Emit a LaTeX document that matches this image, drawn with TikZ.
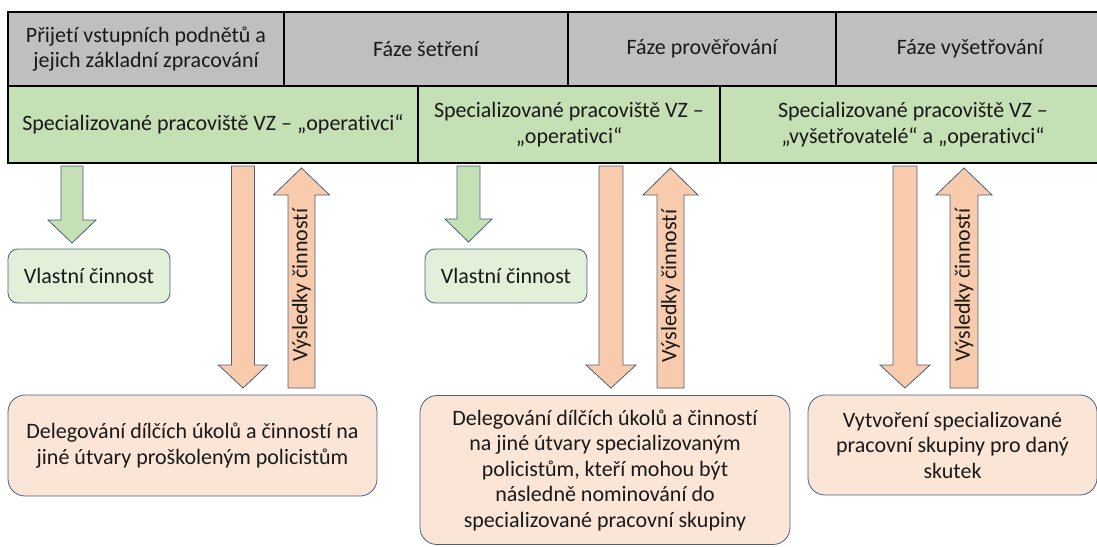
\documentclass[tikz,border=0pt]{standalone}
\usepackage{fontspec}
\setmainfont{Carlito}[Ligatures={NoCommon}]
\usetikzlibrary{positioning,calc}

\definecolor{phasegray}{RGB}{191,191,191}
\definecolor{unitgreen}{RGB}{197,224,180}
\definecolor{owngreen}{RGB}{226,240,217}
\definecolor{arroworange}{RGB}{248,203,173}
\definecolor{taskorange}{RGB}{251,229,214}
\definecolor{edgeblue}{RGB}{75,95,125}

% block arrows: style, from, to, half shaft, half head
\newcommand{\blockdn}[5]{%
  \draw[#1] ($(#2)+(-#4,0)$) -- ($(#3)+(-#4,-23)$) -- ($(#3)+(-#5,-23)$) -- (#3)
    -- ($(#3)+(#5,-23)$) -- ($(#3)+(#4,-23)$) -- ($(#2)+(#4,0)$) -- cycle;}
\newcommand{\blockup}[5]{%
  \draw[#1] ($(#2)+(-#4,0)$) -- ($(#3)+(-#4,27)$) -- ($(#3)+(-#5,27)$) -- (#3)
    -- ($(#3)+(#5,27)$) -- ($(#3)+(#4,27)$) -- ($(#2)+(#4,0)$) -- cycle;}

\begin{document}
\begin{tikzpicture}[x=1pt, y=-1pt,
   every node/.style={font=\fontsize{22}{25.5}\selectfont, text=black!90},
   cell/.style={draw=black, line width=1.3pt, inner sep=0pt, outer sep=0pt, align=center},
   phase/.style={cell, fill=phasegray, minimum height=74pt},
   unit/.style={cell, fill=unitgreen, minimum height=77pt},
   own/.style={draw=edgeblue, line width=0.8pt, fill=owngreen, rounded corners=10pt,
     minimum width=162pt, minimum height=54pt, inner sep=0pt},
   task/.style={draw=edgeblue, line width=0.8pt, fill=taskorange, rounded corners=17pt,
     inner sep=0pt, align=center},
   greenarrow/.style={draw=edgeblue, line width=0.8pt, fill=unitgreen},
   orangearrow/.style={draw=edgeblue, line width=0.8pt, fill=arroworange}]
   \useasboundingbox (0,0) rectangle (1097,546);
   % phases
   \node[phase, minimum width=276pt] (ph1) at (146,49) {Přijetí vstupních podnětů a\\jejich základní zpracování};
   \node[phase, minimum width=284pt] (ph2) at (426,49) {Fáze šetření};
   \node[phase, minimum width=268pt] (ph3) at (702,49) {Fáze prověřování};
   \node[phase, minimum width=268pt] (ph4) at (970,49) {Fáze vyšetřování};
   % units
   \node[unit, minimum width=410pt] (sp1) at (213,124.5) {Specializované pracoviště VZ -- „operativci“};
   \node[unit, minimum width=302pt] (sp2) at (569,124.5) {Specializované pracoviště VZ --\\„operativci“};
   \node[unit, minimum width=386pt] (sp3) at (913,124.5) {Specializované pracoviště VZ --\\„vyšetřovatelé“ a „operativci“};
   % own work
   \node[own] (own1) at (89,276) {Vlastní činnost};
   \node[own] (own2) at (506,276) {Vlastní činnost};
   % delegated tasks
   \node[task, minimum width=369pt, minimum height=101pt] (task1) at (192.5,445.5)
     {Delegování dílčích úkolů a činností na\\jiné útvary proškoleným policistům};
   \node[task, minimum width=370pt, minimum height=149pt] (task2) at (605,470)
     {Delegování dílčích úkolů a činností\\na jiné útvary specializovaným\\policistům, kteří mohou být\\následně nominování do\\specializované pracovní skupiny};
   \node[task, minimum width=289pt, minimum height=100pt] (task3) at (952.5,445)
     {Vytvoření specializované\\pracovní skupiny pro daný\\skutek};

   % arrow ends
   \coordinate (g1a) at (72,166);    \coordinate (g1b) at (72,243);
   \coordinate (g2a) at (468.5,166); \coordinate (g2b) at (468.5,242);
   \coordinate (d1a) at (243,166);   \coordinate (d1b) at (243,388);
   \coordinate (d2a) at (611,166);   \coordinate (d2b) at (611,388);
   \coordinate (d3a) at (905,166);   \coordinate (d3b) at (905,388);
   \coordinate (u1a) at (301.5,388); \coordinate (u1b) at (301.5,168);
   \coordinate (u2a) at (670.5,388); \coordinate (u2b) at (670.5,168);
   \coordinate (u3a) at (964,388);   \coordinate (u3b) at (964,168);

   \blockdn{greenarrow}{g1a}{g1b}{11}{24}
   \blockdn{greenarrow}{g2a}{g2b}{11.5}{23.5}
   \blockdn{orangearrow}{d1a}{d1b}{11.5}{24.5}
   \blockdn{orangearrow}{d2a}{d2b}{12}{25}
   \blockdn{orangearrow}{d3a}{d3b}{12}{25}
   \blockup{orangearrow}{u1a}{u1b}{13.5}{28}
   \blockup{orangearrow}{u2a}{u2b}{13.5}{27.5}
   \blockup{orangearrow}{u3a}{u3b}{14}{28}
   \node[rotate=90] (res1) at (301.5,285) {Výsledky činností};
   \node[rotate=90] (res2) at (670.5,286) {Výsledky činností};
   \node[rotate=90] (res3) at (964,285) {Výsledky činností};
\end{tikzpicture}
\end{document}
